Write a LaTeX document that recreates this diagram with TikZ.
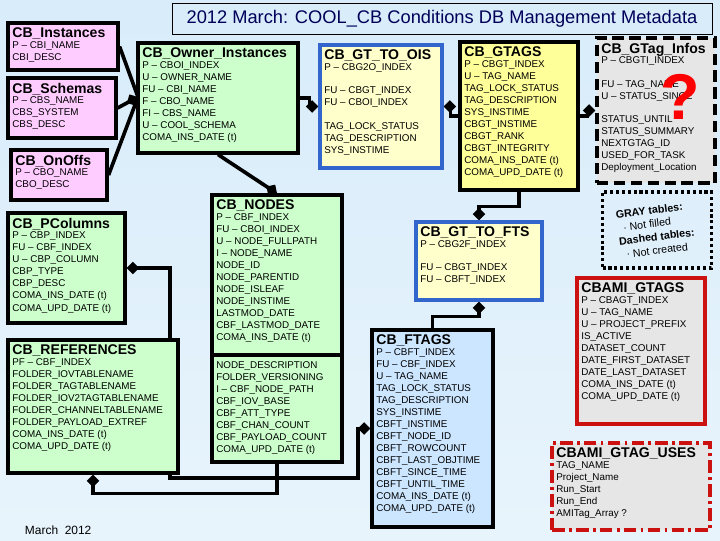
\documentclass[tikz,border=0pt]{standalone}
\usepackage{fontspec}
\setmainfont{Liberation Sans}
\usetikzlibrary{positioning, arrows.meta, backgrounds, calc}
\definecolor{pinkbox}{HTML}{FFCCFF}
\definecolor{greenbox}{HTML}{CCFFCC}
\definecolor{yellowbox}{HTML}{FFFF99}
\definecolor{creambox}{HTML}{FFFFCC}
\definecolor{bluebox}{HTML}{CCE6FF}
\definecolor{graybox}{HTML}{E6E6E6}
\definecolor{blueline}{HTML}{3366CC}
\definecolor{redline}{HTML}{CC1111}
\definecolor{bgtop}{HTML}{D8ECFA}
\definecolor{bgbot}{HTML}{E8F4FC}
\tikzset{
  tbl/.style={draw, line width=2.2pt, inner sep=0pt},
  link/.style={line width=2.6pt},
  items/.style={anchor=north west, align=left, inner sep=0pt, font=\fontsize{7}{8.55}\selectfont},
  dia/.tip={Diamond[length=9pt, width=9pt]}
}
\newcommand\hd[1]{{\fontsize{10}{12}\selectfont\bfseries #1}\\[-1pt]}
% name, x, y, w, h, style, content
\newcommand\dbtable[7]{%
  \node[tbl, #6, minimum width=#4*0.025cm, minimum height=#5*0.025cm] (#1) at (#2+#4/2, #3+#5/2) {};
  \node[items] (#1-txt) at ([shift={(4pt,-4.5pt)}]#1.north west) {#7};
}
\begin{document}
\begin{tikzpicture}[x=0.025cm, y=-0.025cm]
    \useasboundingbox (0,0) rectangle (720,540);

    %Title
    \node[draw, line width=0.6pt, minimum width=540*0.025cm, minimum height=31*0.025cm,
      font=\fontsize{13}{15}\selectfont, text=blue!35!black] (title) at (442,19)
      {2012 March: COOL\_CB Conditions DB Management Metadata};

    %Tables
    \dbtable{inst}{8}{23}{110}{47}{fill=pinkbox}{\hd{CB\_Instances}P -- CBI\_NAME\\CBI\_DESC}
    \dbtable{schem}{8}{78}{108}{60}{fill=pinkbox}{\hd{CB\_Schemas}P -- CBS\_NAME\\CBS\_SYSTEM\\CBS\_DESC}
    \dbtable{onoff}{11}{150}{96}{50}{fill=pinkbox}{\hd{CB\_OnOffs}P -- CBO\_NAME\\CBO\_DESC}
    \dbtable{pcol}{8}{213}{117}{110}{fill=greenbox}{\hd{CB\_PColumns}P -- CBP\_INDEX\\FU -- CBF\_INDEX\\U -- CBP\_COLUMN\\CBP\_TYPE\\CBP\_DESC\\COMA\_INS\_DATE (t)\\COMA\_UPD\_DATE (t)}
    \dbtable{refs}{8}{340}{170}{133}{fill=greenbox}{\hd{CB\_REFERENCES}PF -- CBF\_INDEX\\FOLDER\_IOVTABLENAME\\FOLDER\_TAGTABLENAME\\FOLDER\_IOV2TAGTABLENAME\\FOLDER\_CHANNELTABLENAME\\FOLDER\_PAYLOAD\_EXTREF\\COMA\_INS\_DATE (t)\\COMA\_UPD\_DATE (t)}
    \dbtable{own}{138}{43}{160}{110}{fill=greenbox}{\hd{CB\_Owner\_Instances}P -- CBOI\_INDEX\\U -- OWNER\_NAME\\FU -- CBI\_NAME\\F -- CBO\_NAME\\FI -- CBS\_NAME\\U -- COOL\_SCHEMA\\COMA\_INS\_DATE (t)}
    \dbtable{ois}{320}{45}{122}{123}{fill=creambox, draw=blueline}{\hd{CB\_GT\_TO\_OIS}P -- CBG2O\_INDEX\\[8pt]FU -- CBGT\_INDEX\\FU -- CBOI\_INDEX\\[8pt]TAG\_LOCK\_STATUS\\TAG\_DESCRIPTION\\SYS\_INSTIME}
    \dbtable{gtags}{460}{42}{118}{148}{fill=yellowbox}{\hd{CB\_GTAGS}P -- CBGT\_INDEX\\U -- TAG\_NAME\\TAG\_LOCK\_STATUS\\TAG\_DESCRIPTION\\SYS\_INSTIME\\CBGT\_INSTIME\\CBGT\_RANK\\CBGT\_INTEGRITY\\COMA\_INS\_DATE (t)\\COMA\_UPD\_DATE (t)}
    \dbtable{infos}{597}{38}{118}{145}{fill=graybox, dashed, dash pattern=on 8pt off 4pt}{\hd{CB\_GTag\_Infos}P -- CBGTI\_INDEX\\[8pt]FU -- TAG\_NAME\\U -- STATUS\_SINCE\\[8pt]STATUS\_UNTIL\\STATUS\_SUMMARY\\NEXTGTAG\_ID\\USED\_FOR\_TASK\\Deployment\_Location}
    \node[text=red, font=\fontsize{46}{46}\selectfont\bfseries] (quest) at (680,97) {?};
    \dbtable{nodes}{212}{195}{130}{267}{fill=greenbox}{\hd{CB\_NODES}P -- CBF\_INDEX\\FU -- CBOI\_INDEX\\U -- NODE\_FULLPATH\\I -- NODE\_NAME\\NODE\_ID\\NODE\_PARENTID\\NODE\_ISLEAF\\NODE\_INSTIME\\LASTMOD\_DATE\\CBF\_LASTMOD\_DATE\\COMA\_INS\_DATE (t)}
    \draw[line width=2.2pt] (212,355) -- (342,355);
    \node[items] (nodes-more) at (216,361) {NODE\_DESCRIPTION\\FOLDER\_VERSIONING\\I -- CBF\_NODE\_PATH\\CBF\_IOV\_BASE\\CBF\_ATT\_TYPE\\CBF\_CHAN\_COUNT\\CBF\_PAYLOAD\_COUNT\\COMA\_UPD\_DATE (t)};
    \dbtable{fts}{416}{222}{126}{78}{fill=creambox, draw=blueline}{\hd{CB\_GT\_TO\_FTS}P -- CBG2F\_INDEX\\[8pt]FU -- CBGT\_INDEX\\FU -- CBFT\_INDEX}
    \dbtable{ftags}{372}{330}{121}{197}{fill=bluebox}{\hd{CB\_FTAGS}P -- CBFT\_INDEX\\FU -- CBF\_INDEX\\U -- TAG\_NAME\\TAG\_LOCK\_STATUS\\TAG\_DESCRIPTION\\SYS\_INSTIME\\CBFT\_INSTIME\\CBFT\_NODE\_ID\\CBFT\_ROWCOUNT\\CBFT\_LAST\_OBJTIME\\CBFT\_SINCE\_TIME\\CBFT\_UNTIL\_TIME\\COMA\_INS\_DATE (t)\\COMA\_UPD\_DATE (t)}
    \dbtable{ami}{577}{278}{128}{146}{fill=graybox, draw=redline}{\hd{CBAMI\_GTAGS}P -- CBAGT\_INDEX\\U -- TAG\_NAME\\U -- PROJECT\_PREFIX\\IS\_ACTIVE\\DATASET\_COUNT\\DATE\_FIRST\_DATASET\\DATE\_LAST\_DATASET\\COMA\_INS\_DATE (t)\\COMA\_UPD\_DATE (t)}
    \dbtable{uses}{552}{443}{158}{87}{fill=graybox, draw=redline, dash pattern=on 9pt off 3pt on 2pt off 3pt}{\hd{CBAMI\_GTAG\_USES}TAG\_NAME\\Project\_Name\\Run\_Start\\Run\_End\\AMITag\_Array ?}

    %Legend
    \node[draw, line width=2.2pt, dotted, minimum width=109*0.025cm, minimum height=76*0.025cm] (legend) at (657,230) {};
    \node[rotate=7, align=left, inner sep=0pt, font=\fontsize{7.6}{9.6}\selectfont] (legend-txt) at (656,230)
      {\textbf{GRAY tables:}\\\ \ $\cdot$ Not filled\\\textbf{Dashed tables:}\\\ \ $\cdot$ Not created};

    \node[font=\fontsize{8.5}{10}\selectfont, anchor=west] (date) at (20,530) {March\ \ 2012};

    %Links
    \begin{scope}[on background layer]
      \shade[top color=bgtop, bottom color=bgbot] (0,0) rectangle (720,540);
      \coordinate (hub) at (138,97);
      \draw[link] (inst.east) -- (hub);
      \draw[link] (onoff.east) -- (hub);
      \draw[link, -dia] (schem.east) -- (hub);
      \draw[link, -dia] (own.south) -- (nodes.north);
      \draw[link, -dia] (own.east) -- ++(10,0) |- (ois.west);
      \draw[link, -dia] (gtags.west) -- ++(-8,0) |- (ois.east);
      \draw[link, -dia] (gtags.east) -- ++(8,0) |- (infos.west);
      \draw[link, -dia] (gtags.south) -- ++(0,15) -| (fts.north);
      \draw[link, dia-] (fts.south) -- ++(0,15) -| (ftags.north);
      \coordinate (pbend) at (170,478);
      \draw[link, dia-dia] (pcol.east) -| (pbend) -- (358,478) |- (ftags.west);
      \draw[link, dia-] (refs.south) -- ++(0,19) -| (nodes.south);
    \end{scope}
\end{tikzpicture}
\end{document}
